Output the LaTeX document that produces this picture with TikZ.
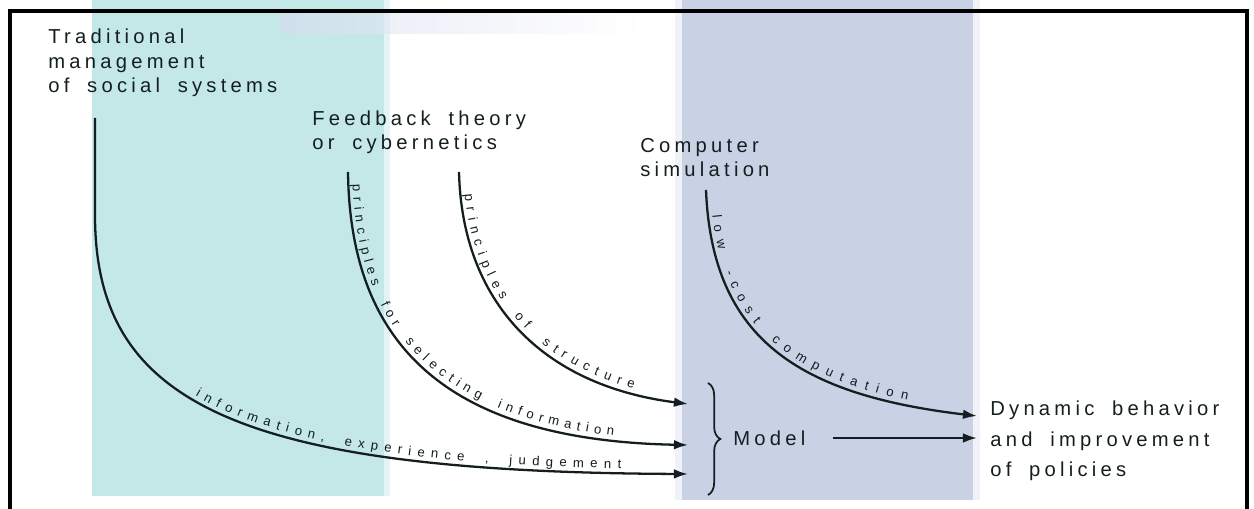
\documentclass[tikz,border=0pt]{standalone}
\usepackage{fontspec}
\setmainfont{Liberation Sans}
\newfontfamily\labfont[LetterSpace=21,WordSpace=1.8]{Liberation Sans}
\newfontfamily\curvefont[WordSpace=2.2]{Liberation Sans}
\usetikzlibrary{decorations.text,decorations.pathreplacing,arrows.meta}
\definecolor{tealbg}{RGB}{196,232,232}
\definecolor{tealedge}{RGB}{228,243,243}
\definecolor{bluebg}{RGB}{201,209,229}
\definecolor{blueedge}{RGB}{241,242,248}
\definecolor{lav}{RGB}{214,219,238}
\definecolor{linec}{RGB}{20,30,32}
\begin{document}
\begin{tikzpicture}[x=0.02cm,y=-0.02cm,
  conn/.style={line width=1.3pt, draw=linec, -{Latex[length=8pt,width=5.5pt]}},
  lbl/.style={font=\labfont\fontsize{11.5}{14.2}\selectfont, inner sep=0pt, anchor=base west, align=left, text=linec},
  curvelbl/.style n args={3}{postaction={decorate, decoration={text along path, raise=2.5pt,
      text align={left indent=#1}, text={|\curvefont\fontsize{7.5}{9}\selectfont\color{linec}\kern#2|#3}}}}
]
\useasboundingbox (0,0) rectangle (1254,509);
% background stripes
\fill[tealbg] (92,0) rectangle (384,496);
\fill[tealedge] (384,0) rectangle (390,496);
\fill[blueedge] (675,0) rectangle (682,500);
\fill[bluebg] (682,0) rectangle (973,500);
\fill[blueedge] (973,0) rectangle (980,500);
\shade[left color=lav, right color=white, opacity=0.6] (280,13) rectangle (640,34);
% frame
\draw[line width=1.8pt, draw=black] (10,560) -- (10,11) -- (1247,11) -- (1247,560);

% texts (anchor = baseline of last line)
\node[lbl] (trad) at (48,93) {Traditional\\management\\of social systems};
\node[lbl] (feed) at (312,150) {Feedback theory\\or cybernetics};
\node[lbl] (comp) at (640,177) {Computer\\simulation};
\node[lbl] (model) at (733,446) {Model};
\node[lbl, font=\labfont\fontsize{11.5}{17.6}\selectfont] (dyn) at (990,477) {Dynamic behavior\\and improvement\\of policies};

% coordinates
\coordinate (tradS) at (95,118);
\coordinate (tradK) at (95,215);
\coordinate (feedS1) at (348,172);
\coordinate (feedS2) at (459,172);
\coordinate (compS) at (706,190);
\coordinate (in1) at (688,404);
\coordinate (in2) at (688,445);
\coordinate (in3) at (688,474);
\coordinate (bt) at (708,383);
\coordinate (bb) at (708,495);
\coordinate (dynA) at (977,416);
\coordinate (dynB) at (977,438);
\coordinate (modE) at (833,438);

% connectors
\draw[conn, curvelbl={177pt}{3.6pt}{information, experience , judgement}]
  (tradS) -- (tradK) .. controls (95,400) and (230,472) .. (in3);
\draw[conn, curvelbl={4pt}{3.2pt}{principles for selecting information}]
  (feedS1) .. controls (350,330) and (430,440) .. (in2);
\draw[conn, curvelbl={9pt}{3.8pt}{principles of structure}]
  (feedS2) .. controls (462,300) and (540,385) .. (in1);
\draw[conn, curvelbl={10pt}{4.6pt}{low -cost computation}]
  (compS) .. controls (712,340) and (800,395) .. (dynA);
\draw[decorate, decoration={brace, amplitude=7pt}, line width=1pt, draw=linec] (bt) -- (bb);
\draw[conn] (modE) -- (dynB);
\end{tikzpicture}
\end{document}
